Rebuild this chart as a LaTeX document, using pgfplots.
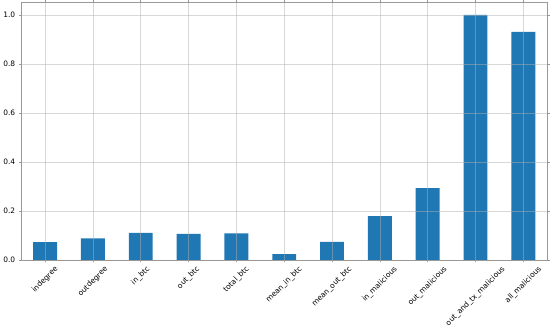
\documentclass[border=0pt]{standalone}
\usepackage{pgfplots}
\pgfplotsset{compat=1.18}
\usepackage{fontspec}
\setmainfont{DejaVu Sans}
\definecolor{mplblue}{HTML}{1F77B4}
\definecolor{gridc}{HTML}{B0B0B0}
\newcommand{\rl}[1]{\rotatebox{45}{#1}}
\begin{document}
\begin{tikzpicture}
\begin{axis}[
  scale only axis,
  width=528bp, height=258bp,
  xmin=-0.5, xmax=10.5,
  ymin=0, ymax=1.05,
  xtick=data,
  xticklabels={\rl{indegree},\rl{outdegree},\rl{in\_btc},\rl{out\_btc},\rl{total\_btc},\rl{mean\_in\_btc},\rl{mean\_out\_btc},\rl{in\_malicious},\rl{out\_malicious},\rl{out\_and\_tx\_malicious},\rl{all\_malicious}},
  x tick label style={anchor=north, inner sep=1pt, yshift=-2bp, font=\fontsize{7.5}{8}\selectfont},
  ytick={0,0.2,0.4,0.6,0.8,1.0},
  yticklabel style={font=\fontsize{7.5}{8}\selectfont, /pgf/number format/fixed, /pgf/number format/fixed zerofill, /pgf/number format/precision=1},
  /pgf/number format/assume math mode=true,
  grid=major,
  major grid style={gridc, opacity=0.5, line width=0.6pt},
  axis line style={gray!80, line width=0.6pt},
  tick style={gray!80, line width=0.5pt},
  tick align=outside,
  major tick length=2.5bp,
  axis on top,
  ybar,
  bar width=24bp,
]
\addplot[fill=mplblue, draw=none] coordinates {
(0,0.072) (1,0.088) (2,0.110) (3,0.106) (4,0.108) (5,0.023) (6,0.073) (7,0.178) (8,0.293) (9,1.0) (10,0.931)};
\end{axis}
\end{tikzpicture}
\end{document}
